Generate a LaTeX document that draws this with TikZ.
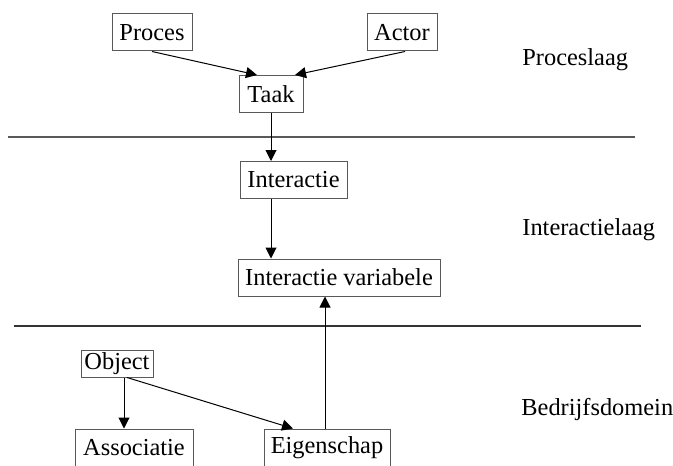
\documentclass[tikz,border=0pt]{standalone}
\usepackage{fontspec}
\setmainfont{Liberation Serif}
\usetikzlibrary{arrows.meta,
  calc,
  positioning
}
\tikzset{blok/.style = {draw=black!65, line width=0.5pt, inner sep=0pt,
    minimum height=18.5pt, font=\fontsize{12.2}{14}\selectfont},
  laag/.style = {anchor=west, inner sep=0pt, font=\fontsize{12.2}{14}\selectfont},
  pijl/.style = {-{Triangle[length=5.5pt,width=5.5pt]}, line width=0.5pt}}

\begin{document}
\begin{tikzpicture}[x=0.5pt, y=-0.5pt]
  \useasboundingbox (0, 0) rectangle (673, 465);

  % proceslaag
  \node[blok, minimum width=40pt] (proces) at (152, 32.5) {Proces};
  \node[blok, minimum width=35pt] (actor) at (402, 32.5) {Actor};
  \node[blok, minimum width=32pt] (taak) at (271, 94) {Taak};
  \node[laag] (proceslaag) at (522, 60) {Proceslaag};

  \draw[black!65, line width=0.6pt] (8, 137) -- (635, 137);

  % interactielaag
  \node[blok, minimum width=53.5pt] (interactie) at (293.5, 180) {Interactie};
  \node[blok, minimum width=101pt] (intvar) at (339, 277.5) {Interactie variabele};
  \node[laag] (interactielaag) at (522, 230) {Interactielaag};

  \draw[black!80, line width=0.6pt] (14, 326) -- (641, 326);

  % bedrijfsdomein
  \node[blok, minimum width=36pt, minimum height=13.5pt] (object) at (117, 363.5) {Object};
  \node[blok, minimum width=59pt] (associatie) at (134, 447.5) {Associatie};
  \node[blok, minimum width=63pt] (eigenschap) at (327, 447.5) {Eigenschap};
  \node[laag] (bedrijfsdomein) at (521, 410) {Bedrijfsdomein};

  \draw[pijl] (proces.south) -- ([xshift=-7pt]taak.north);
  \draw[pijl] ([xshift=1.5pt]actor.south) -- ([xshift=12pt]taak.north);
  \draw[pijl] (taak.south) -- (taak.south |- interactie.north);
  \draw[pijl] (taak.south |- interactie.south) -- (taak.south |- intvar.north);
  \draw[pijl] ([xshift=-1pt]eigenschap.north) -- ([xshift=-1pt]eigenschap.north |- intvar.south);
  \draw[pijl] ([xshift=3.5pt]object.south) -- ([xshift=3.5pt]object.south |- associatie.north);
  \draw[pijl] ([xshift=5pt]object.south) -- ([xshift=-17pt]eigenschap.north);
\end{tikzpicture}
\end{document}
